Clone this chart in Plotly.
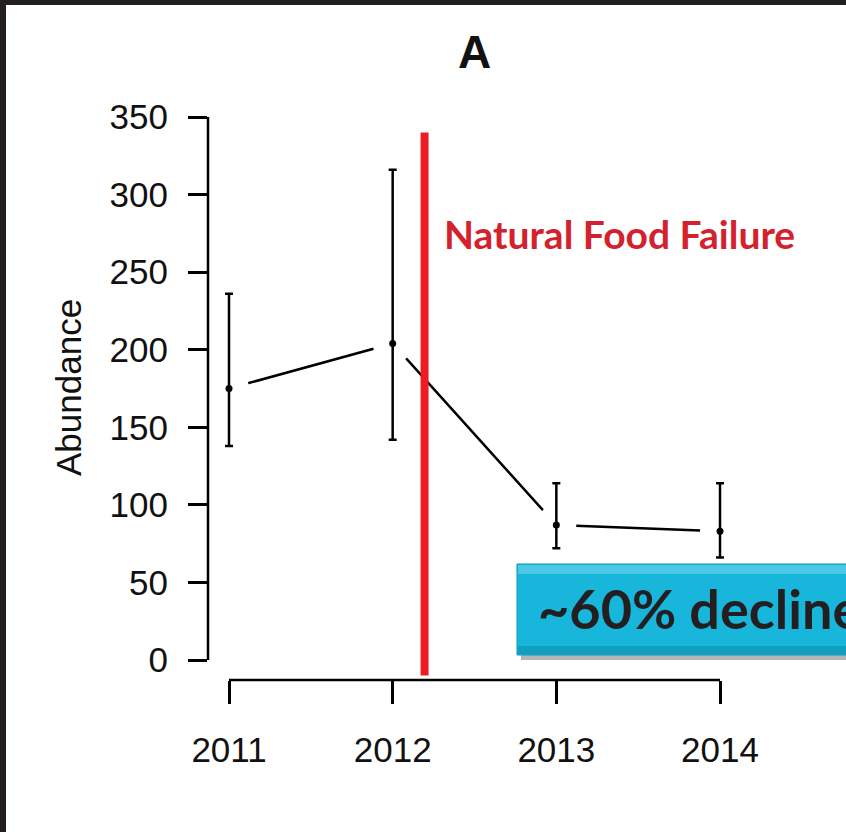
import plotly.graph_objects as go

# ---------------- data ----------------
years = [2011, 2012, 2013, 2014]
year_labels = ["2011", "2012", "2013", "2014"]
abundance = [175, 204, 87, 83]
upper = [236, 316, 114, 114]
lower = [138, 142, 72, 66]
y_ticks = [0, 50, 100, 150, 200, 250, 300, 350]
event_x = 2012.195
event_y = [-10, 340]
event_label = "Natural Food Failure"
decline_label = "~60% decline"
title_text = "A"
y_title = "Abundance"

# ---------------- layout geometry ----------------
W, H = 846, 832
L, R, T, B = 208, 0, 100, 152
PW, PH = W - L - R, H - T - B
X_RANGE = [2010.8717, 2014.7698]
Y_RANGE = [-12.89, 360.96]


def px_x(p):
    return (p - L) / PW


def px_y(p):
    return (H - B - p) / PH


err_plus = [u - m for u, m in zip(upper, abundance)]
err_minus = [m - l for m, l in zip(abundance, lower)]

fig = go.Figure()
# connecting line
fig.add_trace(go.Scatter(x=years, y=abundance, mode="lines",
                         line=dict(color="black", width=2.5), hoverinfo="skip"))
# white gaps around points (R type="b" style)
fig.add_trace(go.Scatter(x=years, y=abundance, mode="markers",
                         marker=dict(color="white", size=40, line=dict(width=0)),
                         hoverinfo="skip"))
# points with error bars
fig.add_trace(go.Scatter(x=years, y=abundance, mode="markers",
                         marker=dict(color="black", size=7),
                         error_y=dict(type="data", symmetric=False, array=err_plus,
                                      arrayminus=err_minus, color="black",
                                      thickness=2.5, width=4)))

shapes = []
# detached axis lines
shapes.append(dict(type="line", xref="paper", yref="y", x0=0, x1=0,
                   y0=y_ticks[0], y1=y_ticks[-1], line=dict(color="black", width=2.5)))
shapes.append(dict(type="line", xref="x", yref="paper", x0=years[0], x1=years[-1],
                   y0=0, y1=0, line=dict(color="black", width=2.5)))
# event line
shapes.append(dict(type="line", xref="x", yref="y", x0=event_x, x1=event_x,
                   y0=event_y[0], y1=event_y[1], line=dict(color="#ed1c24", width=8)))
# decline box: shadow, body, bevel
shapes.append(dict(type="rect", xref="paper", yref="paper",
                   x0=px_x(521), x1=px_x(860), y0=px_y(660), y1=px_y(568),
                   fillcolor="rgba(90,90,90,0.45)", line=dict(width=0)))
shapes.append(dict(type="rect", xref="paper", yref="paper",
                   x0=px_x(517), x1=px_x(860), y0=px_y(655), y1=px_y(564),
                   fillcolor="#18b6da", line=dict(color="#0f98b8", width=1)))
shapes.append(dict(type="rect", xref="paper", yref="paper",
                   x0=px_x(518), x1=px_x(860), y0=px_y(574), y1=px_y(565),
                   fillcolor="#4cc7e6", line=dict(width=0)))
shapes.append(dict(type="rect", xref="paper", yref="paper",
                   x0=px_x(518), x1=px_x(860), y0=px_y(654), y1=px_y(646),
                   fillcolor="#109fc0", line=dict(width=0)))
# dark frame (top and left)
shapes.append(dict(type="rect", xref="paper", yref="paper",
                   x0=px_x(0), x1=px_x(W), y0=px_y(5), y1=px_y(0),
                   fillcolor="#231f20", line=dict(width=0)))
shapes.append(dict(type="rect", xref="paper", yref="paper",
                   x0=px_x(0), x1=px_x(6), y0=px_y(H), y1=px_y(0),
                   fillcolor="#231f20", line=dict(width=0)))

annotations = [
    dict(text="<b>" + title_text + "</b>", xref="paper", yref="paper",
         x=px_x(474), y=px_y(52), xanchor="center", yanchor="middle", showarrow=False,
         font=dict(family="Liberation Sans", size=46, color="#111")),
    dict(text="<b>" + event_label + "</b>", xref="paper", yref="paper",
         x=px_x(442), y=px_y(234), xanchor="left", yanchor="middle", showarrow=False,
         font=dict(family="Lato", size=39, color="#d3222e")),
    dict(text="<b>" + decline_label + "</b>", xref="paper", yref="paper",
         x=px_x(536), y=px_y(608), xanchor="left", yanchor="middle", showarrow=False,
         font=dict(family="Lato", size=54, color="#231f20")),
    dict(text=y_title, xref="paper", yref="paper", textangle=-90,
         x=px_x(68), y=px_y(388), xanchor="center", yanchor="middle", showarrow=False,
         font=dict(family="Liberation Sans", size=35, color="#111")),
]

fig.update_layout(
    width=W, height=H,
    margin=dict(l=L, r=R, t=T, b=B, pad=0),
    paper_bgcolor="white", plot_bgcolor="white",
    showlegend=False,
    shapes=shapes,
    annotations=annotations,
    xaxis=dict(range=X_RANGE, tickvals=years, ticktext=year_labels,
               showgrid=False, zeroline=False, showline=False,
               ticks="outside", ticklen=23, tickwidth=2.5, tickcolor="black",
               ticklabelstandoff=16,
               tickfont=dict(family="Liberation Sans", size=35, color="#111")),
    yaxis=dict(range=Y_RANGE, tickvals=y_ticks,
               showgrid=False, zeroline=False, showline=False,
               ticks="outside", ticklen=19, tickwidth=2.5, tickcolor="black",
               ticklabelstandoff=13,
               tickfont=dict(family="Liberation Sans", size=35, color="#111")),
)

fig.write_html("out.html", config={"displayModeBar": False},
               post_script="document.body.style.margin='0';document.body.style.overflow='hidden';")
